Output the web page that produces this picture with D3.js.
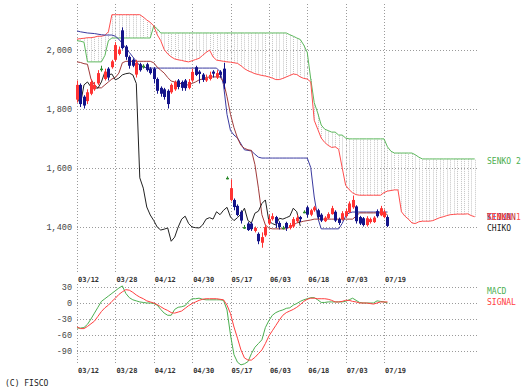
<!DOCTYPE html>
<html><head><meta charset="utf-8">
<script src="https://cdn.jsdelivr.net/npm/d3@7"></script>
<style>body{margin:0;background:#fff}svg{display:block}</style>
</head><body>
<script>
// ---- data ----
const dateLabels = ["03/12","03/28","04/12","04/30","05/17","06/03","06/18","07/03","07/19"];
const dateIndex = [0,11,22,33,44,55,66,77,88];
const priceTicks = [1400,1600,1800,2000];
const macdTicks = [30,0,-30,-60,-90];

const open  = [1830,1880,1840,1825,1850,1865,1885,1935,1900,1935,1940,1965,1985,2065,2010,1975,1965,1915,1950,1945,
               1950,1935,1935,1900,1870,1865,1860,1855,1865,1895,1890,1895,1870,1895,1940,1925,1915,1895,1900,1925,
               1905,1925,1935,1565,1490,1490,1470,1450,1398,1410,1410,1385,1375,1345,1370,1410,1425,1432,1412,1396,
               1412,1395,1400,1418,1432,1450,1465,1440,1455,1455,1440,1418,1428,1442,1450,1425,1425,1435,1448,1465,
               1468,1432,1428,1405,1415,1415,1452,1438,1432,1432];
const high  = [1895,1885,1845,1865,1900,1890,1930,1945,1935,1940,1965,2025,2010,2075,2015,1980,1970,1965,1955,1950,
               1955,1940,1940,1905,1875,1870,1865,1885,1895,1900,1895,1900,1900,1935,1945,1930,1920,1915,1925,1930,
               1930,1930,1955,1570,1560,1495,1475,1455,1405,1415,1415,1400,1380,1380,1405,1440,1445,1436,1418,1402,
               1416,1412,1432,1440,1436,1455,1470,1460,1470,1460,1445,1435,1448,1470,1455,1430,1452,1460,1485,1505,
               1472,1436,1432,1435,1430,1435,1458,1470,1458,1438];
const low   = [1820,1805,1800,1815,1845,1860,1880,1925,1895,1895,1935,1960,1980,2000,1965,1935,1940,1905,1925,1935,
               1925,1915,1885,1850,1840,1830,1800,1850,1860,1865,1860,1860,1865,1890,1910,1885,1890,1890,1895,1905,
               1900,1905,1865,1560,1485,1455,1435,1410,1392,1385,1385,1380,1340,1328,1365,1405,1420,1395,1390,1390,
               1385,1390,1395,1412,1415,1445,1430,1435,1450,1425,1415,1415,1425,1440,1415,1405,1420,1430,1445,1460,
               1410,1405,1400,1400,1410,1412,1430,1435,1428,1398];
const close = [1880,1815,1810,1855,1890,1880,1920,1935,1925,1905,1960,2015,2000,2005,1975,1945,1945,1955,1930,1945,
               1930,1920,1900,1860,1850,1839,1815,1880,1890,1873,1870,1869,1890,1924,1914,1917,1897,1903,1914,1918,
               1920,1914,1885,1565,1530,1466,1439,1420,1398,1388,1391,1395,1350,1364,1398,1425,1435,1410,1398,1396,
               1395,1405,1425,1430,1425,1450,1440,1455,1465,1432,1420,1430,1442,1462,1420,1412,1445,1452,1478,1490,
               1418,1410,1405,1428,1425,1430,1435,1462,1450,1402];

const tenkan = [1958,1956,1952,1950,1900,1880,1870,1870,1880,1890,1900,1905,1920,1955,1960,1960,1960,1960,1960,1960,
                1960,1960,1955,1940,1930,1920,1905,1893,1890,1888,1883,1880,1880,1885,1890,1897,1900,1905,1907,1907,
                1907,1907,1890,1840,1780,1735,1700,1675,1665,1660,1658,1610,1530,1440,1405,1395,1392,1392,1392,1392,
                1392,1398,1405,1412,1415,1418,1420,1422,1425,1425,1425,1425,1425,1425,1425,1425,1425,1425,1425,1425,
                1435,1446,1446,1446,1446,1446,1446,1446,1446,1440];
const kijun  = [2063,2060,2058,2056,2055,2054,2052,2050,2049,2049,2049,2045,2035,2020,2005,1990,1975,1960,1945,1940,
                1938,1937,1937,1937,1937,1937,1937,1937,1937,1937,1937,1937,1937,1937,1937,1937,1937,1937,1937,1937,
                1937,1925,1880,1780,1725,1710,1700,1680,1660,1658,1656,1645,1635,1632,1632,1632,1632,1632,1632,1632,
                1632,1632,1632,1632,1632,1632,1632,1600,1500,1430,1392,1392,1392,1392,1392,1392,1410,1435,1446,1449,
                1449,1449,1449,1449,1449,1449,1449,1449,1449,1449];
const senko1 = [2035,2037,2038,2040,2040,2042,2045,2045,2048,2060,2118,2118,2118,2118,2118,2118,2118,2118,2118,2110,
                2100,2092,2080,2050,2030,2000,1985,1975,1968,1965,1963,1960,1958,1962,1966,1970,1980,1990,1998,1975,
                1964,1962,1960,1958,1957,1955,1953,1945,1935,1928,1923,1918,1915,1912,1910,1907,1903,1898,1898,1902,
                1907,1912,1917,1915,1907,1902,1900,1890,1760,1730,1700,1685,1675,1668,1670,1662,1600,1540,1525,1514,
                1508,1506,1506,1506,1506,1506,1506,1506,1515,1520,1522,1524,1524,1450,1435,1425,1412,1410,1416,1418,
                1418,1418,1420,1425,1430,1433,1437,1440,1441,1442,1442,1442,1443,1437,1433];
const senko2 = [2030,2028,2025,1958,1958,1958,1958,1958,1980,2030,2039,2039,2039,2039,2039,2039,2039,2039,2039,2039,
                2039,2039,2080,2070,2056,2056,2056,2056,2056,2056,2056,2056,2056,2056,2056,2056,2056,2056,2056,2056,
                2056,2056,2056,2056,2056,2056,2056,2056,2056,2056,2056,2056,2056,2056,2056,2056,2056,2056,2056,2056,
                2056,2050,2045,2039,2034,2015,1990,1900,1820,1785,1744,1730,1725,1720,1720,1710,1710,1700,1697,1697,
                1697,1697,1697,1697,1697,1697,1697,1697,1697,1670,1655,1649,1649,1649,1649,1649,1649,1643,1635,1629,
                1629,1629,1629,1629,1629,1629,1629,1629,1629,1629,1629,1629,1629,1629,1629];

const macd   = [-47,-47,-46,-40,-30,-19,-8,3,8,13,18,23,28,32,18,10,6,4,2,1,
                0,0,-1,-4,-12,-19,-23,-23,-12,-8,-7,-5,3,8,8,9,7,6,6,6,
                6,6,5,-13,-60,-97,-111,-116,-114,-110,-95,-83,-76,-69,-46,-33,-23,-18,-15,-13,
                -10,-9,-4,-1,3,6,8,10,10,6,1,1,2,2,2,2,2,3,6,9,
                5,1,0,0,0,0,4,3,2,0];
const signal = [-45,-48,-48,-44,-39,-34,-25,-16,-9,-4,3,9,16,21,25,24,20,15,11,8,
                4,2,0,-3,-7,-11,-14,-18,-19,-17,-15,-10,-5,-1,2,5,7,8,8,8,
                8,7,6,-4,-20,-45,-66,-88,-103,-107,-107,-102,-95,-88,-76,-62,-52,-42,-32,-23,
                -18,-15,-12,-8,-3,3,7,9,9,8,8,8,7,5,2,2,3,5,5,3,
                2,0,0,0,-1,-2,0,2,2,2];

// ---- drawing ----
const W = 523, H = 391;
const svg = d3.select("body").append("svg").attr("width", W).attr("height", H);
const x = d3.scaleLinear().domain([0, 88]).range([77, 384]);
const y = d3.scaleLinear().domain([1400, 2000]).range([226.5, 49.5]);
const ym = d3.scaleLinear().domain([-90, 30]).range([351, 287]);
const X0 = 77, X1 = 477;
const px = v => Math.round(v) + 0.5;
const mono = "'DejaVu Sans Mono', 'Liberation Mono', monospace";
const cour = "'Liberation Mono', 'DejaVu Sans Mono', monospace";
const gridColor = "#9a9a9a";

const g = svg.append("g");
g.selectAll(".hp").data(priceTicks).join("line")
  .attr("x1", X0).attr("x2", X1).attr("y1", d => px(y(d))).attr("y2", d => px(y(d)))
  .attr("stroke", gridColor).attr("stroke-dasharray", "1,2");
g.selectAll(".hm").data(macdTicks).join("line")
  .attr("x1", X0).attr("x2", X1).attr("y1", d => px(ym(d))).attr("y2", d => px(ym(d)))
  .attr("stroke", gridColor).attr("stroke-dasharray", "1,2");
dateIndex.forEach(i => {
  g.append("line").attr("x1", px(x(i))).attr("x2", px(x(i))).attr("y1", 4).attr("y2", 274)
    .attr("stroke", gridColor).attr("stroke-dasharray", "1,2");
  g.append("line").attr("x1", px(x(i))).attr("x2", px(x(i))).attr("y1", 284).attr("y2", 364)
    .attr("stroke", gridColor).attr("stroke-dasharray", "1,2");
});

// cloud hatch
const sIdx = d3.range(senko1.length);
g.selectAll(".hatch").data(sIdx).join("line")
  .attr("x1", i => px(x(i))).attr("x2", i => px(x(i)))
  .attr("y1", i => y(senko1[i])).attr("y2", i => y(senko2[i]))
  .attr("stroke", "#c4c4c4").attr("stroke-dasharray", "1,1");

const line = (arr, sc) => d3.line().x((d, i) => x(i)).y(d => sc(d))(arr);
const drawLine = (arr, sc, color) => svg.append("path").attr("d", line(arr, sc))
  .attr("fill", "none").attr("stroke", color).attr("stroke-width", 1);

drawLine(senko2, y, "#5cb85c");
drawLine(senko1, y, "#ff4d4d");
drawLine(kijun, y, "#3a3aa0");
drawLine(tenkan, y, "#a03a3a");
const chiko = close.slice(25);
drawLine(chiko, y, "#222");

// candles
const cIdx = d3.range(close.length);
const cColor = i => close[i] > open[i] ? "#ff3333" : (close[i] < open[i] ? "#14148a" : "#2e8b2e");
svg.selectAll(".wick").data(cIdx).join("line")
  .attr("x1", i => px(x(i))).attr("x2", i => px(x(i)))
  .attr("y1", i => y(high[i])).attr("y2", i => y(low[i]))
  .attr("stroke", cColor);
svg.selectAll(".body").data(cIdx).join("rect")
  .attr("x", i => Math.round(x(i)) - 1).attr("width", 3)
  .attr("y", i => y(Math.max(open[i], close[i])))
  .attr("height", i => Math.max(1.5, Math.abs(y(open[i]) - y(close[i]))))
  .attr("fill", cColor);

// MACD
drawLine(macd, ym, "#4caf50");
drawLine(signal, ym, "#ff4040");

// labels
const txt = (s, xx, yy, color, anchor, size, weight, fam) => svg.append("text").text(s)
  .attr("x", xx).attr("y", yy).attr("fill", color).attr("text-anchor", anchor || "start")
  .attr("font-family", fam || mono).attr("font-size", size || 8).attr("font-weight", weight || "normal");

priceTicks.forEach(v => txt(d3.format(",")(v), 72, y(v) + 3, "#444", "end", 8.5, "normal", cour));
macdTicks.forEach(v => txt(String(v), 72, ym(v) + 3, "#444", "end", 8.5, "normal", cour));
dateLabels.forEach((s, k) => {
  txt(s, x(dateIndex[k]) + 1, 282, "#333", "start", 7, "bold");
  txt(s, x(dateIndex[k]) + 1, 373, "#333", "start", 7, "bold");
});

txt("SENKO 2", 487, 164, "#4caf50");
txt("KIJUN", 487, 220, "#3a3aa0");
txt("TENKAN", 487, 220, "#c02a2a");
txt("SENKO 1", 487, 220, "#ff4d4d");
txt("CHIKO", 487, 231, "#222");
txt("MACD", 487, 294, "#4caf50");
txt("SIGNAL", 487, 305, "#ff4040");
txt("(C) FISCO", 5, 386, "#222");
</script>
</body></html>
